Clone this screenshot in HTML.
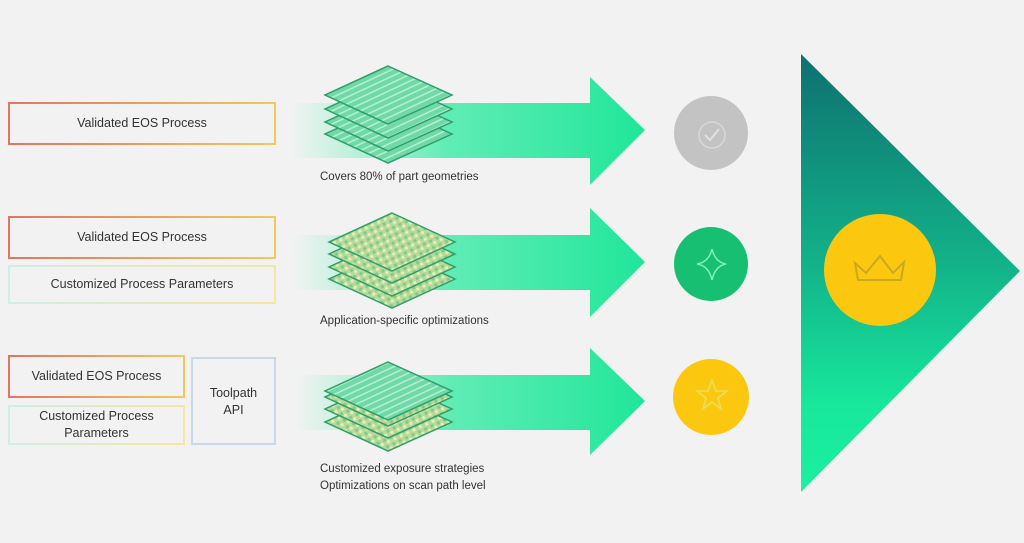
<!DOCTYPE html>
<html><head><style>
body{margin:0;width:1024px;height:543px;background:#f2f2f2;position:relative;overflow:hidden;font-family:"Liberation Sans",sans-serif;}
.b{position:absolute;box-sizing:border-box;display:flex;align-items:center;justify-content:center;text-align:center;font-size:12.5px;color:#333;line-height:17px}
.r{border:2px solid;border-image:linear-gradient(90deg,#e07560,#f0c860) 1;}
.c{border:2px solid;border-image:linear-gradient(90deg,#cfeee8,#f5e6a0) 1;}
.t{border:2px solid #c7d8e8;}
.l{position:absolute;font-size:11.5px;color:#333;line-height:17px}
</style></head><body>
<div class="b r" style="left:8px;top:102px;width:268px;height:43px">Validated EOS Process</div>
<div class="b r" style="left:8px;top:216px;width:268px;height:43px">Validated EOS Process</div>
<div class="b c" style="left:8px;top:265px;width:268px;height:39px">Customized Process Parameters</div>
<div class="b r" style="left:8px;top:355px;width:177px;height:43px">Validated EOS Process</div>
<div class="b c" style="left:8px;top:405px;width:177px;height:40px">Customized Process<br>Parameters</div>
<div class="b t" style="left:191px;top:357px;width:85px;height:88px;align-items:flex-start;padding-top:26px">Toolpath<br>API</div>
<svg width="1024" height="543" style="position:absolute;left:0;top:0">
<defs>
<linearGradient id="ag" x1="0" x2="1"><stop offset="0" stop-color="#3ef0a8" stop-opacity="0"/><stop offset="0.45" stop-color="#2eeaa0" stop-opacity="0.75"/><stop offset="1" stop-color="#1fe699"/></linearGradient>
<linearGradient id="tg" x1="0" y1="0" x2="0" y2="1"><stop offset="0" stop-color="#0e7070"/><stop offset="0.5" stop-color="#13b58a"/><stop offset="0.8" stop-color="#17e89c"/><stop offset="1" stop-color="#1df0a0"/></linearGradient>
<pattern id="st" width="6" height="6" patternUnits="userSpaceOnUse" patternTransform="rotate(-25)"><rect width="6" height="6" fill="#6fd9a8"/><rect width="6" height="1.5" fill="#b8efd0"/></pattern>
<pattern id="st2" width="7" height="7" patternUnits="userSpaceOnUse" patternTransform="rotate(-25)"><rect width="7" height="7" fill="#b9d89a"/><rect width="3" height="3" fill="#7ccc90"/><rect x="3" y="3" width="3" height="3" fill="#e2f0b0"/></pattern>
</defs>
<path d="M290 103H590V77L645 130L590 185V158H290Z" fill="url(#ag)"/>
<path d="M292 235H590V208L645 262L590 317V290H292Z" fill="url(#ag)"/>
<path d="M295 375H590V348L645 401L590 455V430H295Z" fill="url(#ag)"/>
<g stroke="#2e9e6a" stroke-width="1.5">
<g fill="url(#st)">
<path d="M388 105L452 134L388 163L325 134Z"/><path d="M388 93L452 122L388 151L325 122Z"/><path d="M388 80L452 109L388 138L325 109Z"/><path d="M388 66L452 95L388 124L325 95Z"/></g>
<g fill="url(#st2)">
<path d="M392 250L455 279L392 308L329 279Z"/><path d="M392 238L455 267L392 296L329 267Z"/><path d="M392 225L455 254L392 283L329 254Z"/><path d="M392 213L455 242L392 271L329 242Z"/></g>
<g fill="url(#st2)">
<path d="M388 393L452 422L388 451L325 422Z"/><path d="M388 380L452 409L388 438L325 409Z"/><path d="M388 368L452 397L388 426L325 397Z"/><path d="M388 362L452 391L388 420L325 391Z" fill="url(#st)"/></g>
</g>
<circle cx="711" cy="133" r="37" fill="#c3c3c3"/>
<circle cx="712" cy="135" r="13" fill="none" stroke="#d8d8d8" stroke-width="1.5"/>
<path d="M705 135L710 140L719 129" fill="none" stroke="#e0e0e0" stroke-width="2"/>
<circle cx="711" cy="264" r="37" fill="#16bf72"/>
<path d="M712 249Q715 262 726 264Q715 266 712 280Q709 266 697 264Q709 262 712 249Z" fill="none" stroke="#7ff0b8" stroke-width="1.5"/>
<circle cx="711" cy="397" r="38" fill="#fcc80f"/>
<path d="M712 380L716 391L727 391L718 398L721 409L712 402L703 409L706 398L697 391L708 391Z" fill="none" stroke="#e8e060" stroke-width="1.5"/>
<path d="M801 54L1020 271L801 492Z" fill="url(#tg)"/>
<circle cx="880" cy="270" r="56" fill="#fcc80f"/>
<path d="M858 280L855 263L866 273L880 256L893 273L904 262L901 280Z" fill="none" stroke="#caa820" stroke-width="2"/>
</svg>
<div class="l" style="left:320px;top:169px">Covers 80% of part geometries</div>
<div class="l" style="left:320px;top:313px">Application-specific optimizations</div>
<div class="l" style="left:320px;top:461px">Customized exposure strategies<br>Optimizations on scan path level</div>
</body></html>
